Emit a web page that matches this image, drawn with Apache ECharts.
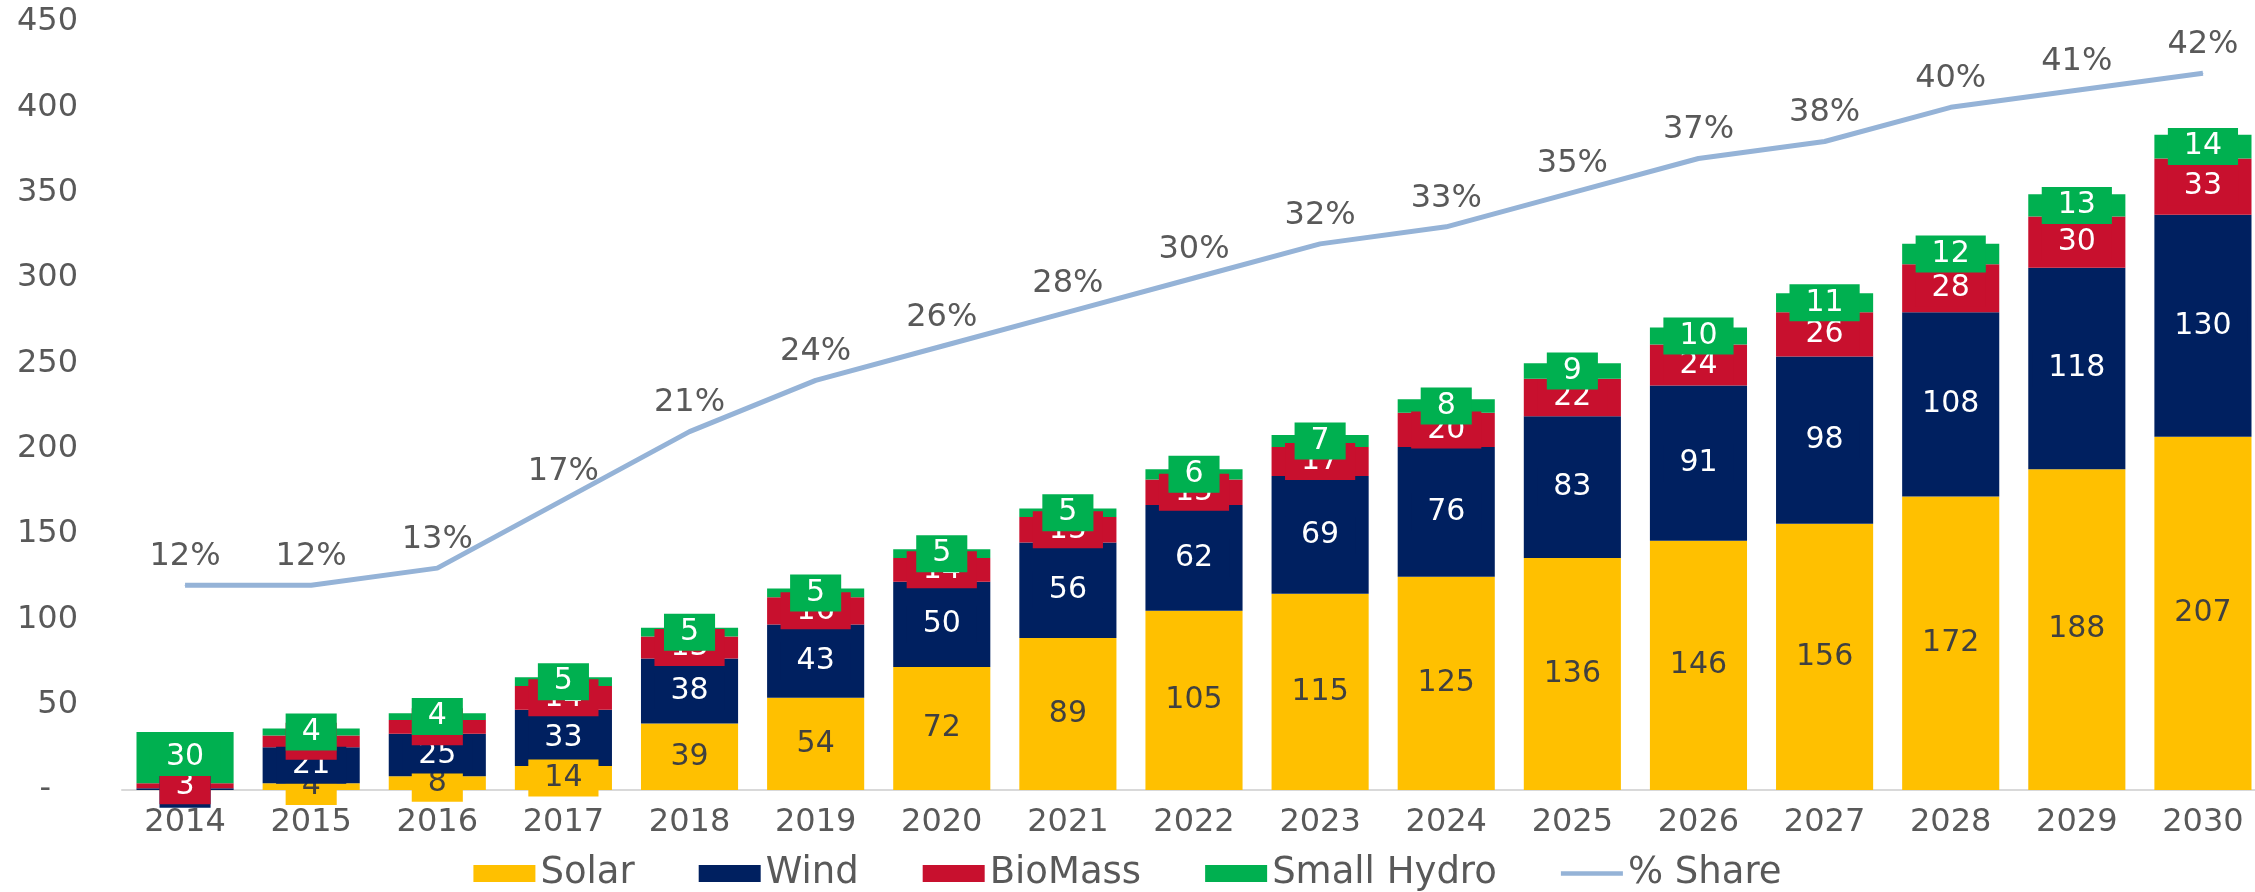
<!DOCTYPE html>
<html>
<head>
<meta charset="utf-8">
<script src="https://cdn.jsdelivr.net/npm/echarts@6/dist/echarts.min.js"></script>
<style>
html,body{margin:0;padding:0;background:#fff;}
#chart{width:2255px;height:892px;}
</style>
</head>
<body>
<div id="chart"></div>
<script>
const years = ['2014','2015','2016','2017','2018','2019','2020','2021','2022','2023','2024','2025','2026','2027','2028','2029','2030'];
const solar = [0,4,8,14,39,54,72,89,105,115,125,136,146,156,172,188,207];
const wind = [1,21,25,33,38,43,50,56,62,69,76,83,91,98,108,118,130];
const bioMass = [3,7,8,14,13,16,14,15,15,17,20,22,24,26,28,30,33];
const smallHydro = [30,4,4,5,5,5,5,5,6,7,8,9,10,11,12,13,14];
const sharePct = [12,12,13,17,21,24,26,28,30,32,33,35,37,38,40,41,42];
const seriesNames = ['Solar','Wind','BioMass','Small Hydro','% Share'];
const yMin = 0, yMax = 450, yInterval = 50;
const shareMax = 45;

const FONT = '"DejaVu Sans", Verdana, sans-serif';
const GRAY = '#595959';
const colors = ['#FFC000','#002060','#C8102E','#00B050','#95B3D7'];
const labelColors = ['#404040','#ffffff','#ffffff','#ffffff'];

function barSeries(name, values, idx) {
  return {
    name: name,
    type: 'bar',
    stack: 'total',
    barWidth: '77%',
    itemStyle: { color: colors[idx] },
    data: values.map(v => v > 0 ? v : { value: v, label: { show: false } }),
    label: {
      show: true,
      position: 'inside',
      fontFamily: FONT,
      fontSize: 30,
      lineHeight: 29,
      color: labelColors[idx],
      backgroundColor: colors[idx],
      padding: [4, 16]
    }
  };
}

const chart = echarts.init(document.getElementById('chart'), null, { renderer: 'canvas' });
chart.setOption({
  animation: false,
  textStyle: { fontFamily: FONT },
  grid: { left: 122, right: -11, top: 22, bottom: 102, outerBoundsMode: 'none', containLabel: false },
  legend: {
    top: 850,
    left: 'center',
    itemWidth: 62,
    itemHeight: 17,
    itemGap: 64,
    textStyle: { fontFamily: FONT, fontSize: 37, color: GRAY },
    data: seriesNames.map((n, i) => i < 4 ? { name: n, icon: 'rect' } : { name: n, icon: 'path://M0,0H14V1H0Z' })
  },
  xAxis: {
    type: 'category',
    data: years,
    axisTick: { show: false },
    axisLine: { lineStyle: { color: '#D9D9D9', width: 2 } },
    axisLabel: { fontFamily: FONT, fontSize: 32, color: GRAY, margin: 17 }
  },
  yAxis: [
    {
      type: 'value',
      min: yMin, max: yMax, interval: yInterval,
      splitLine: { show: false },
      axisLine: { show: false },
      axisTick: { show: false },
      axisLabel: {
        fontFamily: FONT, fontSize: 32, color: GRAY, margin: 44,
        formatter: v => v === 0 ? '{dash|-}' : String(v),
        rich: { dash: { fontFamily: FONT, fontSize: 32, color: GRAY, padding: [0, 27, 0, 0] } }
      }
    },
    {
      type: 'value', min: 0, max: shareMax, show: false,
      splitLine: { show: false }
    }
  ],
  series: [
    barSeries(seriesNames[0], solar, 0),
    barSeries(seriesNames[1], wind, 1),
    barSeries(seriesNames[2], bioMass, 2),
    barSeries(seriesNames[3], smallHydro, 3),
    {
      name: seriesNames[4],
      type: 'line',
      yAxisIndex: 1,
      data: sharePct,
      symbol: 'circle',
      symbolSize: 1,
      showSymbol: true,
      itemStyle: { color: colors[4] },
      lineStyle: { color: colors[4], width: 5 },
      label: {
        show: true,
        position: 'top',
        distance: 12,
        fontFamily: FONT,
        fontSize: 32,
        color: GRAY,
        formatter: p => p.value + '%'
      },
      z: 5
    }
  ]
});
</script>
</body>
</html>
